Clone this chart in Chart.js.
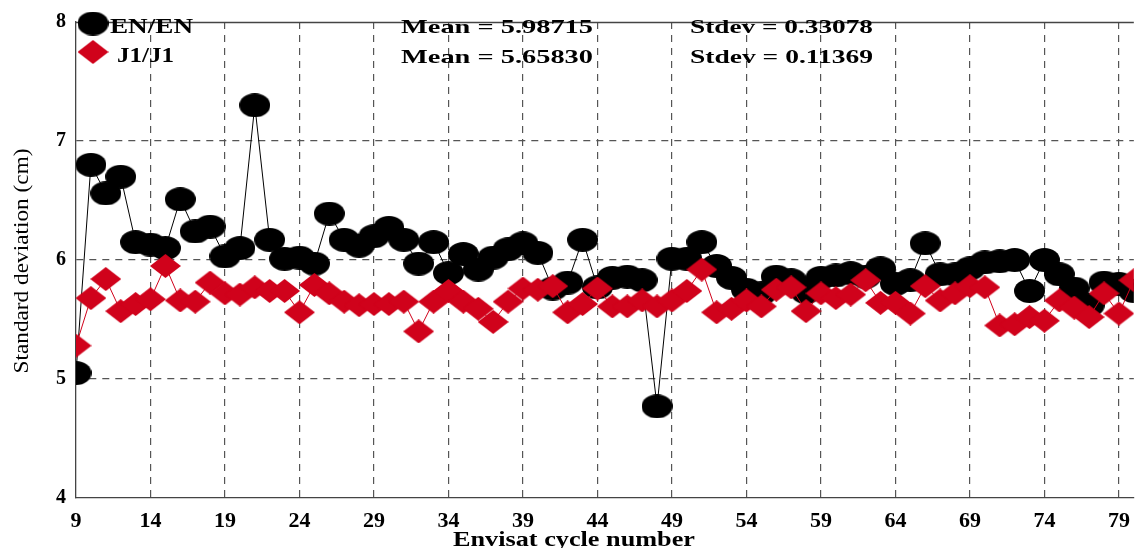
<!DOCTYPE html>
<html>
<head>
<meta charset="utf-8">
<script src="https://cdn.jsdelivr.net/npm/chart.js@4/dist/chart.umd.min.js"></script>
<style>
html,body{margin:0;padding:0;background:#fff;overflow:hidden;}
#wrap{position:relative;width:1140px;height:548px;}
</style>
</head>
<body>
<div id="wrap"><canvas id="c"></canvas></div>
<script>
const cycles = [];
for (let c = 9; c <= 80; c++) cycles.push(c);

const enValues = [5.05,6.80,6.56,6.70,6.15,6.13,6.10,6.51,6.24,6.28,
  6.03,6.10,7.30,6.17,6.01,6.02,5.97,6.39,6.17,6.12,
  6.20,6.27,6.17,5.97,6.15,5.89,6.05,5.92,6.02,6.09,
  6.14,6.06,5.76,5.81,6.17,5.77,5.85,5.86,5.83,4.77,
  6.01,6.01,6.15,5.95,5.85,5.75,5.72,5.86,5.83,5.73,
  5.85,5.87,5.89,5.86,5.93,5.80,5.83,6.14,5.88,5.88,
  5.93,5.98,5.99,6.00,5.74,6.00,5.88,5.76,5.62,5.81,
  5.80,5.74];

const j1Values = [5.28,5.68,5.84,5.57,5.63,5.67,5.95,5.66,5.65,5.81,
  5.72,5.71,5.77,5.74,5.74,5.56,5.79,5.72,5.65,5.62,
  5.63,5.63,5.65,5.40,5.65,5.74,5.65,5.59,5.48,5.65,
  5.76,5.75,5.78,5.56,5.63,5.76,5.61,5.61,5.66,5.61,
  5.66,5.74,5.92,5.56,5.59,5.66,5.61,5.75,5.77,5.57,
  5.72,5.68,5.71,5.83,5.64,5.64,5.55,5.78,5.66,5.72,
  5.78,5.77,5.45,5.46,5.52,5.49,5.66,5.60,5.52,5.72,
  5.55,5.83];

const xTicks = [9,14,19,24,29,34,39,44,49,54,59,64,69,74,79];
const yTicks = [4,5,6,7,8];
const seriesNames = ['EN/EN','J1/J1'];
const meanLabels = ['Mean = 5.98715','Mean = 5.65830'];
const stdevLabels = ['Stdev = 0.33078','Stdev = 0.11369'];
const xTitle = 'Envisat cycle number';
const yTitle = 'Standard deviation (cm)';

const RED = '#d0021b';
const SERIF = '"Liberation Serif","DejaVu Serif",serif';

function makeEllipse(w,h,color){
  const cv=document.createElement('canvas'); cv.width=w; cv.height=h;
  const g=cv.getContext('2d'); g.fillStyle=color;
  g.beginPath(); g.ellipse(w/2,h/2,w/2,h/2,0,0,Math.PI*2); g.fill();
  return cv;
}
function makeDiamond(w,h,color){
  const cv=document.createElement('canvas'); cv.width=w; cv.height=h;
  const g=cv.getContext('2d'); g.fillStyle=color;
  g.beginPath(); g.moveTo(w/2,0); g.lineTo(w,h/2); g.lineTo(w/2,h); g.lineTo(0,h/2); g.closePath(); g.fill();
  return cv;
}
const circleImg = makeEllipse(31,24,'#000');
const diamondImg = makeDiamond(31,24,RED);

function stretchText(ctx,text,x,y,targetW,font,color,align){
  ctx.save();
  ctx.font=font; ctx.fillStyle=color; ctx.textBaseline='alphabetic';
  const w=ctx.measureText(text).width;
  const s=targetW/w;
  ctx.translate(x,y); ctx.scale(s,1);
  ctx.textAlign='left';
  ctx.fillText(text, align==='center'? -w/2 : 0, 0);
  ctx.restore();
}

const overlay = {
  id:'overlay',
  afterDraw(chart){
    const ctx=chart.ctx, a=chart.chartArea;
    ctx.save();
    ctx.strokeStyle='#444'; ctx.lineWidth=1.3; ctx.setLineDash([]);
    ctx.beginPath(); ctx.moveTo(a.left,a.top+0.5); ctx.lineTo(a.right,a.top+0.5); ctx.stroke();
    ctx.drawImage(circleImg,93-15.5,23.5-12);
    ctx.drawImage(diamondImg,93-15.5,52-12);
    stretchText(ctx,seriesNames[0],110,33,83,'bold 21px '+SERIF,'#000');
    stretchText(ctx,seriesNames[1],117,62,57,'bold 21px '+SERIF,'#000');
    stretchText(ctx,meanLabels[0],401,33,192,'bold 19px '+SERIF,'#000');
    stretchText(ctx,meanLabels[1],401,63,192,'bold 19px '+SERIF,'#000');
    stretchText(ctx,stdevLabels[0],690,33,183,'bold 19px '+SERIF,'#000');
    stretchText(ctx,stdevLabels[1],690,63,183,'bold 19px '+SERIF,'#000');
    stretchText(ctx,xTitle,574,546,242,'bold 22px '+SERIF,'#000','center');
    ctx.save();
    ctx.translate(28,261); ctx.rotate(-Math.PI/2);
    stretchText(ctx,yTitle,0,0,225,'20px '+SERIF,'#000','center');
    ctx.restore();
    ctx.restore();
  }
};

const gridColor = '#555';

new Chart(document.getElementById('c'),{
  type:'line',
  data:{
    datasets:[
      {label:seriesNames[0], data:cycles.map((c,i)=>({x:c,y:enValues[i]})),
       borderColor:'#000', borderWidth:1, pointStyle:circleImg, order:2, clip:0, tension:0},
      {label:seriesNames[1], data:cycles.map((c,i)=>({x:c,y:j1Values[i]})),
       borderColor:RED, borderWidth:1, pointStyle:diamondImg, order:1, clip:0, tension:0}
    ]
  },
  options:{
    responsive:true, maintainAspectRatio:false, animation:false,
    layout:{padding:{top:14,right:0,left:0,bottom:0}},
    plugins:{legend:{display:false}, tooltip:{enabled:false}},
    scales:{
      x:{type:'linear', min:9, max:80,
        afterBuildTicks(s){ s.ticks = xTicks.map(v=>({value:v})); },
        afterFit(s){ s.height = 50; },
        border:{display:true,color:'#444',width:1.3,dash:[7,6]},
        grid:{color:(c)=> (c.tick && c.tick.value===9) ? 'rgba(0,0,0,0)' : gridColor, lineWidth:1.2, drawTicks:false},
        ticks:{font:{family:SERIF,size:22,weight:'bold'},color:'#000',padding:10,maxRotation:0,autoSkip:false}
      },
      y:{type:'linear', min:4, max:8,
        afterBuildTicks(s){ s.ticks = yTicks.map(v=>({value:v})); },
        afterFit(s){ s.width = 76; },
        border:{display:true,color:'#444',width:1.3,dash:[7,6]},
        grid:{color:(c)=> (c.tick && (c.tick.value===4||c.tick.value===8)) ? 'rgba(0,0,0,0)' : gridColor, lineWidth:1.2, drawTicks:false},
        ticks:{font:{family:SERIF,size:20,weight:'bold'},color:'#000',padding:10}
      }
    }
  },
  plugins:[overlay]
});
</script>
</body>
</html>
